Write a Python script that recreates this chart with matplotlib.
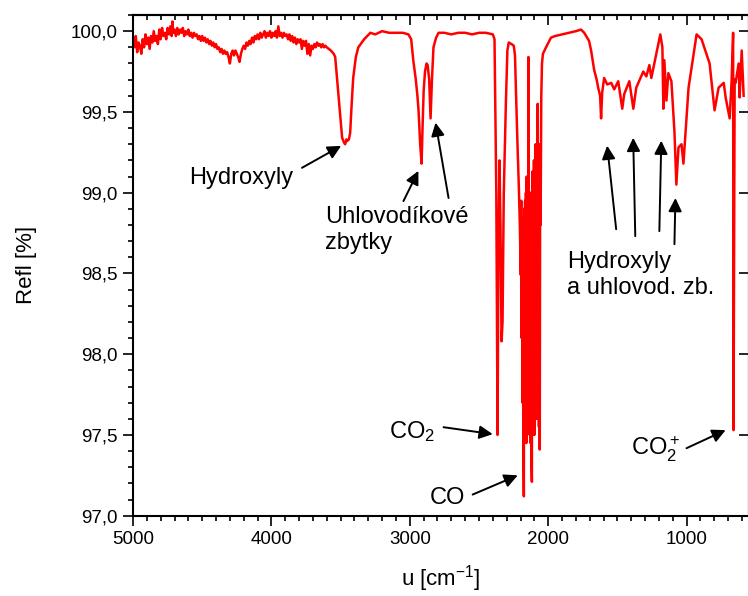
import matplotlib
matplotlib.use("Agg")
from matplotlib import pyplot as plt
from matplotlib.ticker import MultipleLocator, FuncFormatter

# wavenumber [cm-1] and reflectance [%]
# noisy high-wavenumber part, 5000 -> 3600 every 10 cm-1 (plus the spike at 4715)
wn_base = [5000, 4990, 4980, 4970, 4960, 4950, 4940, 4930, 4920, 4910,
           4900, 4890, 4880, 4870, 4860, 4850, 4840, 4830, 4820, 4810,
           4800, 4790, 4780, 4770, 4760, 4750, 4740, 4730, 4720, 4715, 4710,
           4700, 4690, 4680, 4670, 4660, 4650, 4640, 4630, 4620, 4610,
           4600, 4590, 4580, 4570, 4560, 4550, 4540, 4530, 4520, 4510,
           4500, 4490, 4480, 4470, 4460, 4450, 4440, 4430, 4420, 4410,
           4400, 4390, 4380, 4370, 4360, 4350, 4340, 4330, 4320, 4310,
           4300, 4290, 4280, 4270, 4260, 4250, 4240, 4230, 4220, 4210,
           4200, 4190, 4180, 4170, 4160, 4150, 4140, 4130, 4120, 4110,
           4100, 4090, 4080, 4070, 4060, 4050, 4040, 4030, 4020, 4010,
           4000, 3990, 3980, 3970, 3960, 3950, 3940, 3930, 3920, 3910,
           3900, 3890, 3880, 3870, 3860, 3850, 3840, 3830, 3820, 3810,
           3800, 3790, 3780, 3770, 3760, 3750, 3740, 3730, 3720, 3710,
           3700, 3690, 3680, 3670, 3660, 3650, 3640, 3630, 3620, 3610, 3600]
refl_base = [99.95, 99.90, 99.97, 99.87, 99.93, 99.91, 99.86, 99.95, 99.90, 99.98,
             99.92, 99.96, 99.89, 99.97, 99.93, 100.00, 99.94, 99.97, 99.92, 100.01,
             99.95, 100.02, 99.97, 99.99, 99.95, 100.02, 99.98, 100.03, 99.97, 100.06, 99.99,
             100.01, 99.97, 100.02, 99.98, 100.01, 99.99, 100.02, 99.97, 100.00, 99.98,
             100.01, 99.97, 99.99, 99.96, 99.99, 99.97, 99.98, 99.95, 99.97, 99.94,
             99.97, 99.94, 99.96, 99.93, 99.95, 99.92, 99.94, 99.91, 99.93, 99.90,
             99.92, 99.89, 99.90, 99.87, 99.89, 99.86, 99.88, 99.86, 99.87, 99.84,
             99.80, 99.86, 99.88, 99.85, 99.88, 99.86, 99.84, 99.81, 99.86, 99.89,
             99.91, 99.89, 99.93, 99.91, 99.94, 99.92, 99.96, 99.93, 99.97, 99.95,
             99.98, 99.95, 99.99, 99.96, 99.98, 100.00, 99.96, 99.99, 99.97, 100.00,
             99.96, 99.99, 99.97, 100.00, 99.96, 100.03, 99.97, 99.99, 99.96, 99.99,
             99.97, 99.98, 99.95, 99.98, 99.94, 99.97, 99.93, 99.96, 99.92, 99.95,
             99.93, 99.95, 99.89, 99.94, 99.91, 99.94, 99.86, 99.92, 99.85, 99.91,
             99.89, 99.92, 99.90, 99.93, 99.91, 99.92, 99.90, 99.92, 99.90, 99.91, 99.90]

# OH band and CH doublet
wn_oh_ch = [3570, 3550, 3539, 3525, 3505, 3489, 3475, 3467, 3458, 3452, 3440, 3431, 3420,
            3409, 3390, 3372, 3330, 3285, 3250, 3200, 3150, 3100, 3050, 3010, 2990, 2975,
            2958, 2945, 2937, 2925, 2915, 2908, 2900, 2890, 2879, 2871, 2860, 2850, 2840,
            2829, 2810, 2792, 2750, 2700, 2650, 2600, 2550, 2500, 2450, 2400]
refl_oh_ch = [99.88, 99.86, 99.84, 99.70, 99.50, 99.34, 99.31, 99.30, 99.33, 99.32, 99.33, 99.37, 99.55,
              99.71, 99.84, 99.90, 99.95, 99.99, 99.98, 100.00, 99.99, 99.99, 99.99, 99.98, 99.95, 99.82,
              99.71, 99.60, 99.51, 99.30, 99.18, 99.40, 99.63, 99.75, 99.80, 99.79, 99.70, 99.46, 99.70,
              99.90, 99.96, 99.99, 99.99, 99.98, 99.99, 99.99, 99.98, 99.99, 99.99, 99.98]

# CO2 doublet and CO rotational lines
wn_co = [2388, 2375, 2366, 2360, 2352, 2345, 2337, 2330, 2321, 2306, 2295, 2285, 2265,
         2249, 2240, 2234, 2222, 2212, 2205, 2198, 2195, 2192, 2189, 2186, 2183, 2180,
         2176, 2173, 2170, 2167, 2164, 2161, 2158, 2155, 2152, 2149, 2146, 2143, 2140,
         2137, 2134, 2131, 2128, 2125, 2121, 2118, 2115, 2112, 2109, 2106, 2103, 2100,
         2097, 2094, 2091, 2088, 2085, 2082, 2079, 2076, 2073, 2070, 2067, 2064, 2061,
         2058, 2055, 2050, 2045, 2038, 2016, 1980, 1950, 1900, 1850, 1800, 1763, 1740]
refl_co = [99.95, 99.00, 97.50, 98.60, 99.20, 98.80, 98.08, 98.20, 99.00, 99.55, 99.88, 99.93, 99.92,
           99.91, 99.85, 99.66, 99.30, 99.03, 98.80, 98.49, 98.95, 98.10, 98.85, 97.70, 98.70, 97.50,
           97.12, 98.90, 97.55, 98.95, 97.50, 99.00, 97.45, 99.10, 97.55, 99.00, 97.60, 99.84, 97.70,
           99.00, 97.50, 98.90, 97.45, 99.00, 97.35, 97.21, 99.13, 97.50, 98.90, 97.55, 99.20, 97.50,
           99.20, 97.60, 99.30, 97.65, 99.20, 97.60, 99.30, 99.55, 97.80, 99.30, 97.55, 99.20, 97.41,
           99.30, 98.80, 99.60, 99.80, 99.86, 99.90, 99.96, 99.97, 99.98, 99.99, 100.00, 100.01, 99.99]

# fingerprint region down to the CO2 bending line
wn_low = [1705, 1690, 1668, 1650, 1639, 1625, 1618, 1610, 1596, 1574, 1545, 1523, 1494,
          1465, 1451, 1414, 1385, 1364, 1313, 1291, 1269, 1255, 1219, 1190, 1175, 1168,
          1161, 1146, 1132, 1110, 1088, 1074, 1059, 1037, 1023, 986, 928, 892, 834,
          798, 769, 732, 718, 689, 675, 664, 661, 653, 646, 624, 617, 602, 588]
refl_low = [99.94, 99.88, 99.76, 99.70, 99.65, 99.60, 99.46, 99.62, 99.71, 99.67, 99.68, 99.64, 99.69,
            99.52, 99.61, 99.69, 99.52, 99.65, 99.75, 99.72, 99.79, 99.71, 99.86, 99.98, 99.90, 99.52,
            99.82, 99.57, 99.74, 99.69, 99.38, 99.05, 99.28, 99.30, 99.18, 99.65, 99.98, 99.95, 99.80,
            99.51, 99.65, 99.68, 99.59, 99.46, 99.69, 99.99, 97.53, 99.70, 99.68, 99.80, 99.59, 99.88, 99.60]

wavenumber = wn_base + wn_oh_ch + wn_co + wn_low
reflectance = refl_base + refl_oh_ch + refl_co + refl_low

plt.rcParams['font.family'] = ['Liberation Sans', 'DejaVu Sans']
plt.rcParams['mathtext.fontset'] = 'custom'
plt.rcParams['mathtext.rm'] = 'Liberation Sans'
plt.rcParams['mathtext.it'] = 'Liberation Sans:italic'
plt.rcParams['path.simplify'] = False

fig = plt.figure(figsize=(7.48, 5.96), dpi=100)
ax = fig.add_axes([0.1778, 0.1347, 0.8234, 0.8401])
ax.plot(wavenumber, reflectance, color='#ff0000', lw=1.8)

ax.set_xlim(5000, 550)
ax.set_ylim(97.0, 100.1)
ax.xaxis.set_major_locator(MultipleLocator(1000))
ax.xaxis.set_minor_locator(MultipleLocator(100))
ax.yaxis.set_major_locator(MultipleLocator(0.5))
ax.yaxis.set_minor_locator(MultipleLocator(0.1))
ax.yaxis.set_major_formatter(FuncFormatter(lambda v, p: f"{v:.1f}".replace('.', ',')))
ax.tick_params(which='major', direction='out', length=7, width=1.2, labelsize=13.5, pad=4)
ax.tick_params(which='minor', direction='out', length=3.5, width=1.2)
for s in ax.spines.values():
    s.set_linewidth(1.5)

# inward ticks on top and right
top = ax.secondary_xaxis('top')
top.xaxis.set_major_locator(MultipleLocator(1000))
top.xaxis.set_minor_locator(MultipleLocator(100))
top.tick_params(which='major', direction='in', length=7, width=1.2, labeltop=False)
top.tick_params(which='minor', direction='in', length=3.5, width=1.2)
right = ax.secondary_yaxis('right')
right.yaxis.set_major_locator(MultipleLocator(0.5))
right.yaxis.set_minor_locator(MultipleLocator(0.1))
right.tick_params(which='major', direction='in', length=7, width=1.2, labelright=False)
right.tick_params(which='minor', direction='in', length=0, width=1.2)
for sec in (top, right):
    for s in sec.spines.values():
        s.set_linewidth(1.5)

ax.set_xlabel('u [cm$^{-1}$]', fontsize=16, labelpad=11)
ax.set_ylabel('Refl [%]', fontsize=16, labelpad=24)

arrow = dict(arrowstyle='-|>', color='black', lw=1.4, mutation_scale=20,
             shrinkA=0, shrinkB=0)
fs = 17

ax.text(4221, 99.09, 'Hydroxyly', fontsize=fs, ha='center', va='center')
ax.annotate('', xy=(3496, 99.29), xytext=(3779, 99.154), arrowprops=arrow)

ax.text(3612, 98.77, 'Uhlovodíkové\nzbytky', fontsize=fs, ha='left', va='center')
ax.annotate('', xy=(2938, 99.135), xytext=(3046, 98.948), arrowprops=arrow)
ax.annotate('', xy=(2814, 99.434), xytext=(2720, 98.967), arrowprops=arrow)

ax.text(1864, 98.49, 'Hydroxyly\na uhlovod. zb.', fontsize=fs, ha='left', va='center')
ax.annotate('', xy=(1574, 99.291), xytext=(1509, 98.774), arrowprops=arrow)
ax.annotate('', xy=(1386, 99.340), xytext=(1371, 98.731), arrowprops=arrow)
ax.annotate('', xy=(1183, 99.322), xytext=(1197, 98.762), arrowprops=arrow)
ax.annotate('', xy=(1081, 98.967), xytext=(1088, 98.681), arrowprops=arrow)

ax.text(2981, 97.52, 'CO$_2$', fontsize=fs, ha='center', va='center')
ax.annotate('', xy=(2401, 97.505), xytext=(2756, 97.548), arrowprops=arrow)

ax.text(2727, 97.11, 'CO', fontsize=fs, ha='center', va='center')
ax.annotate('', xy=(2220, 97.25), xytext=(2546, 97.131), arrowprops=arrow)

ax.text(1226, 97.41, 'CO$_2^+$', fontsize=fs, ha='center', va='center')
ax.annotate('', xy=(718, 97.53), xytext=(1001, 97.418), arrowprops=arrow)

fig.savefig('out.png', dpi=100)
